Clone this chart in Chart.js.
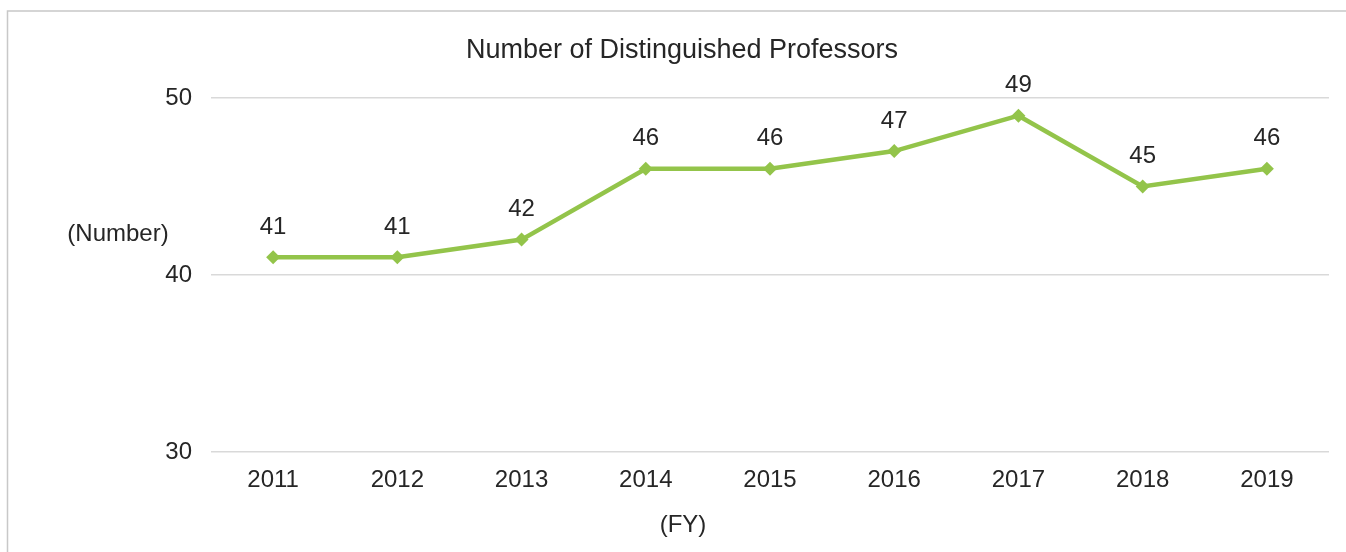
<!DOCTYPE html>
<html>
<head>
<meta charset="utf-8">
<script src="https://cdn.jsdelivr.net/npm/chart.js@4.4.1/dist/chart.umd.min.js"></script>
<style>
  html, body { margin: 0; padding: 0; background: #ffffff; }
  #wrap { position: relative; width: 1346px; height: 552px; }
</style>
</head>
<body>
<div id="wrap"><canvas id="c" width="1346" height="552"></canvas></div>
<script>
const chartTitle = "Number of Distinguished Professors";
const yAxisLabel = "(Number)";
const xAxisLabel = "(FY)";
const categories = ["2011", "2012", "2013", "2014", "2015", "2016", "2017", "2018", "2019"];
const professors = [41, 41, 42, 46, 46, 47, 49, 45, 46];
const yTicks = [30, 40, 50];

const FONT = "'Liberation Sans', Arial, sans-serif";
const TEXT = "#262626";

const decor = {
  id: 'decor',
  beforeDraw(chart) {
    const ctx = chart.ctx;
    ctx.save();
    ctx.fillStyle = '#ffffff';
    ctx.fillRect(0, 0, chart.width, chart.height);
    ctx.strokeStyle = '#c8c8c8';
    ctx.lineWidth = 1.5;
    ctx.strokeRect(7.5, 11, chart.width + 20, chart.height + 20);
    ctx.restore();
  },
  afterDraw(chart) {
    const ctx = chart.ctx;
    ctx.save();
    ctx.fillStyle = TEXT;
    ctx.textAlign = 'center';
    ctx.textBaseline = 'middle';
    ctx.font = "27px " + FONT;
    ctx.fillText(chartTitle, 682, 51);
    ctx.font = "24px " + FONT;
    ctx.fillText(yAxisLabel, 118, 234);
    ctx.fillText(xAxisLabel, 683, 525);
    // data labels
    const meta = chart.getDatasetMeta(0);
    meta.data.forEach((pt, i) => {
      ctx.fillText(String(professors[i]), pt.x, pt.y - 30);
    });
    ctx.restore();
  }
};

new Chart(document.getElementById('c'), {
  type: 'line',
  data: {
    labels: categories,
    datasets: [{
      data: professors,
      borderColor: '#93c44a',
      backgroundColor: '#93c44a',
      borderWidth: 4.5,
      pointStyle: 'rectRot',
      pointRadius: 7,
      pointHoverRadius: 7,
      pointBorderWidth: 0,
      tension: 0,
      fill: false
    }]
  },
  options: {
    responsive: false,
    animation: false,
    events: [],
    layout: { padding: { top: 98, right: 17, bottom: 0, left: 0 } },
    plugins: {
      legend: { display: false },
      title: { display: false },
      tooltip: { enabled: false }
    },
    scales: {
      x: {
        offset: true,
        grid: { display: false, drawTicks: false },
        border: { display: false },
        ticks: { color: TEXT, font: { family: FONT, size: 24 }, padding: 14, maxRotation: 0 },
        afterFit(scale) { scale.height = 100; }
      },
      y: {
        min: 30,
        max: 50,
        afterBuildTicks(scale) { scale.ticks = yTicks.map(v => ({ value: v })); },
        grid: { color: '#d9d9d9', lineWidth: 1.5, drawTicks: false },
        border: { display: false },
        ticks: { color: TEXT, font: { family: FONT, size: 24 }, padding: 19 },
        afterFit(scale) { scale.width = 211; }
      }
    }
  },
  plugins: [decor]
});
</script>
</body>
</html>
